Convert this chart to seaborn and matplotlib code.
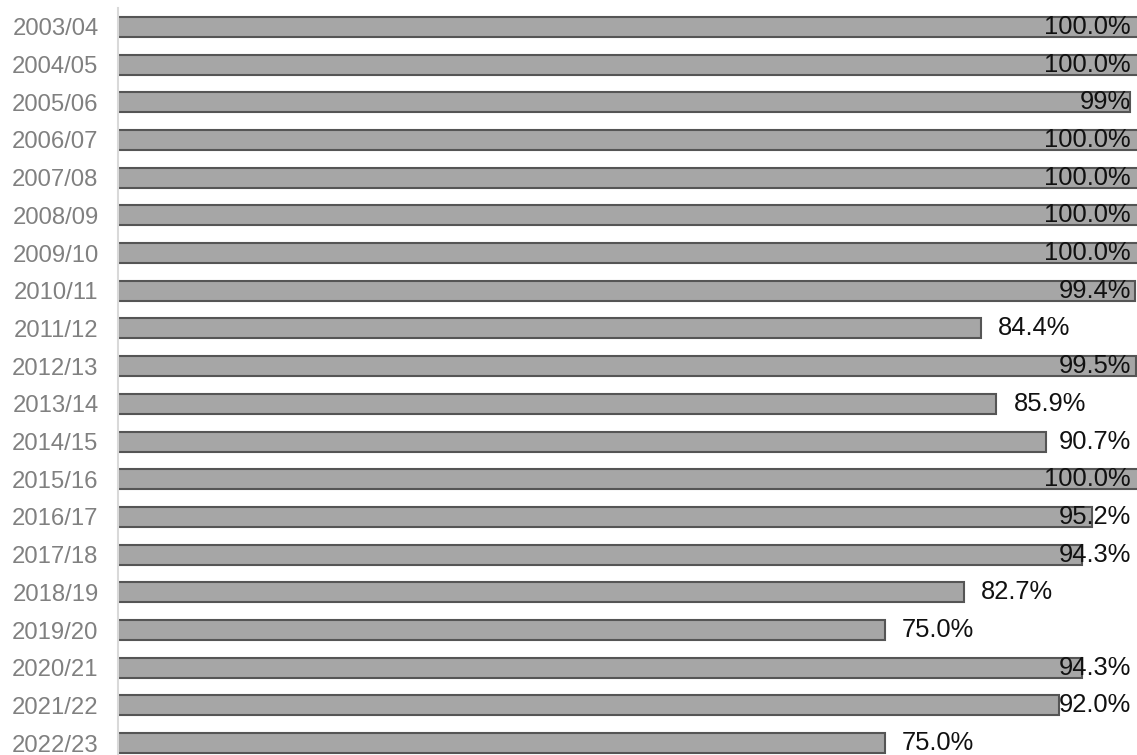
import matplotlib
matplotlib.use("Agg")
import matplotlib.pyplot as plt
import seaborn as sns
import pandas as pd

seasons = ["2003/04", "2004/05", "2005/06", "2006/07", "2007/08", "2008/09",
           "2009/10", "2010/11", "2011/12", "2012/13", "2013/14", "2014/15",
           "2015/16", "2016/17", "2017/18", "2018/19", "2019/20", "2020/21",
           "2021/22", "2022/23"]
values = [100.0, 100.0, 99.0, 100.0, 100.0, 100.0, 100.0, 99.4, 84.4, 99.5,
          85.9, 90.7, 100.0, 95.2, 94.3, 82.7, 75.0, 94.3, 92.0, 75.0]
value_labels = ["100.0%", "100.0%", "99%", "100.0%", "100.0%", "100.0%",
                "100.0%", "99.4%", "84.4%", "99.5%", "85.9%", "90.7%",
                "100.0%", "95.2%", "94.3%", "82.7%", "75.0%", "94.3%",
                "92.0%", "75.0%"]

df = pd.DataFrame({"season": seasons, "value": values})

sns.set_theme(style="white")
plt.rcParams["font.family"] = ["Liberation Sans", "DejaVu Sans"]

W, H = 1137, 755
fig = plt.figure(figsize=(W / 100, H / 100), dpi=100)
ax = fig.add_axes([118 / W, -7 / H, (W - 118) / W, 754 / H])

sns.barplot(data=df, x="value", y="season", orient="h", width=0.53,
            color="#a6a6a6", saturation=1, edgecolor="#555555",
            linewidth=1.5, ax=ax)

ax.set_xlim(0, 99.64)
ax.set_ylim(len(seasons) - 0.5, -0.5)
ax.set_xlabel("")
ax.set_ylabel("")
ax.set_xticks([])
ax.tick_params(axis="y", length=0, pad=14, labelsize=17.2, labelcolor="#808080")
for s in ["top", "right", "bottom"]:
    ax.spines[s].set_visible(False)
ax.spines["left"].set_color("#d9d9d9")
ax.spines["left"].set_linewidth(1.5)

texts = []
for i, (v, lab) in enumerate(zip(values, value_labels)):
    t = ax.annotate(lab, xy=(v, i), xytext=(17, 0), textcoords="offset pixels",
                    ha="left", va="center", fontsize=18.4, color="#111111",
                    annotation_clip=False)
    texts.append(t)

# keep labels inside the figure: slide any overflowing label back to the edge
fig.canvas.draw()
renderer = fig.canvas.get_renderer()
for t in texts:
    bb = t.get_window_extent(renderer)
    overflow = bb.x1 - (W - 6)
    if overflow > 0:
        ox, oy = t.xyann
        t.xyann = (ox - overflow, oy)

fig.savefig("out.png", dpi=100)
